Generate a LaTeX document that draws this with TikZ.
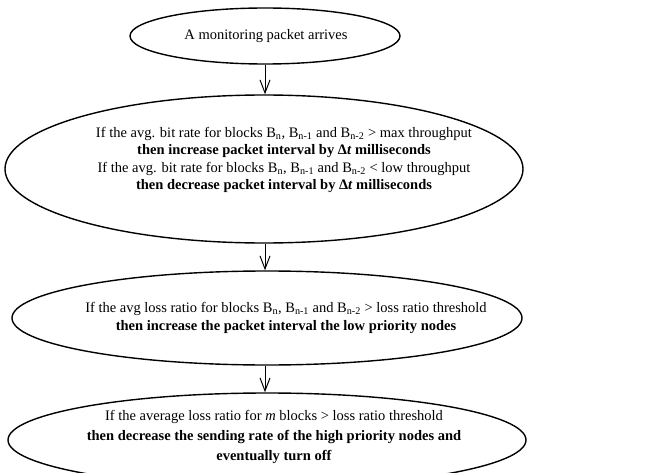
\documentclass[tikz,border=0pt]{standalone}
\usepackage{fontspec}
\setmainfont{Liberation Serif}
\usetikzlibrary{shapes.geometric,arrows.meta}
\tikzset{
  oval/.style={ellipse, draw, line width=1.4pt, inner sep=0pt},
  txt/.style={align=center, font=\fontsize{14.5}{17.5}\selectfont, inner sep=0pt},
  flow/.style={draw, line width=1pt, -{Straight Barb[length=13pt,width=10pt,line width=1pt]}}
}
\newcommand{\Bsub}[1]{B\textsubscript{#1}}
\begin{document}
\begin{tikzpicture}[x=1pt,y=-1pt]
\useasboundingbox (0,0) rectangle (647,473);
\clip (0,0) rectangle (647,473);
\node[oval, minimum width=270pt, minimum height=56pt] (e1) at (265,36) {};
\node[txt] (t1) at (266,36) {A monitoring packet arrives};
\node[oval, minimum width=518pt, minimum height=148pt] (e2) at (264,169) {};
\node[txt] (t2) at (284,160) {If the avg. bit rate for blocks \Bsub{n}, \Bsub{n-1} and \Bsub{n-2} {>} max throughput\\
\textbf{then increase packet interval by Δ\textit{t} milliseconds}\\
If the avg. bit rate for blocks \Bsub{n}, \Bsub{n-1} and \Bsub{n-2} {<} low throughput\\
\textbf{then decrease packet interval by Δ\textit{t} milliseconds}};
\node[oval, minimum width=510pt, minimum height=94pt] (e3) at (267,318) {};
\node[txt] (t3) at (286,318) {If the avg loss ratio for blocks \Bsub{n}, \Bsub{n-1} and \Bsub{n-2} {>} loss ratio threshold\\
\textbf{then increase the packet interval the low priority nodes}};
\node[oval, minimum width=518pt, minimum height=94pt] (e4) at (267,440) {};
\node[txt, font=\fontsize{14.5}{20}\selectfont] (t4) at (274,437) {If the average loss ratio for \textit{m} blocks {>} loss ratio threshold\\
\textbf{then decrease the sending rate of the high priority nodes and}\\
\textbf{eventually turn off}};
\draw[flow] (e1.south) -- (e1.south |- e2.north);
\draw[flow] (e2.south -| e1.south) -- (e1.south |- e3.north);
\draw[flow] (e3.south -| e1.south) -- (e1.south |- e4.north);
\end{tikzpicture}
\end{document}
